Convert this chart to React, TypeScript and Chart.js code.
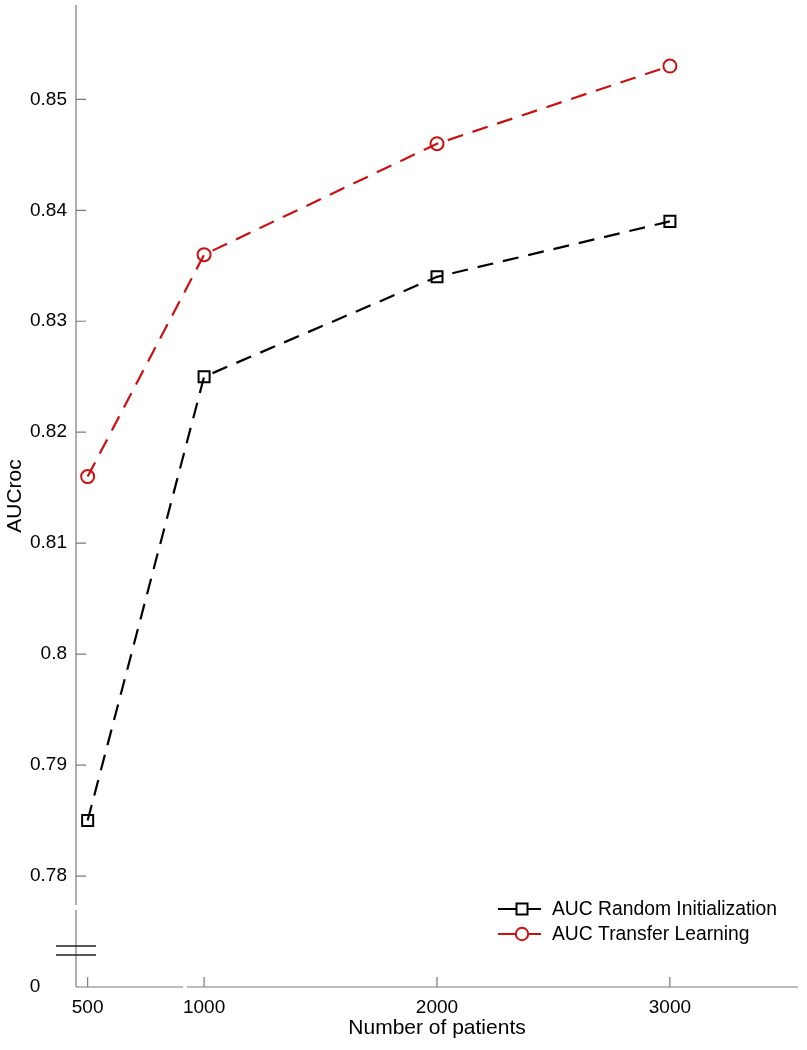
import React, { useEffect, useRef } from 'react';
import { Chart, registerables } from 'chart.js';

Chart.register(...registerables);

const patients = [500, 1000, 2000, 3000];
const aucRandom = [0.785, 0.825, 0.834, 0.839];
const aucTransfer = [0.816, 0.836, 0.846, 0.853];
const xTickValues = [500, 1000, 2000, 3000];
const yTickValues = [0.78, 0.79, 0.8, 0.81, 0.82, 0.83, 0.84, 0.85];
const yBreakLabel = '0';
const seriesNames = ['AUC Random Initialization', 'AUC Transfer Learning'];
const xTitle = 'Number of patients';
const yTitle = 'AUCroc';

const FONT = "'Liberation Sans', Arial, Helvetica, sans-serif";
const AXIS_COLOR = '#7a7a7a';
const RED = '#cc1010';
const BLACK = '#000000';

const decorPlugin = {
  id: 'decor',
  afterDraw(chart: any) {
    const ctx = chart.ctx;
    const { left, right, top, bottom } = chart.chartArea;
    const xs = chart.scales.x;
    const ys = chart.scales.y;
    ctx.save();
    ctx.strokeStyle = AXIS_COLOR;
    ctx.lineWidth = 1.2;
    ctx.setLineDash([]);
    // y axis with gap
    const yGapTop = bottom - 82;
    const yGapBot = bottom - 77;
    ctx.beginPath();
    ctx.moveTo(left, top);
    ctx.lineTo(left, yGapTop);
    ctx.moveTo(left, yGapBot);
    ctx.lineTo(left, bottom);
    // x axis with gap
    const xGapL = left + 107;
    const xGapR = left + 111;
    ctx.moveTo(left, bottom);
    ctx.lineTo(xGapL, bottom);
    ctx.moveTo(xGapR, bottom);
    ctx.lineTo(right, bottom);
    ctx.stroke();
    // ticks
    ctx.beginPath();
    yTickValues.forEach((v) => {
      const p = ys.getPixelForValue(v);
      ctx.moveTo(left, p);
      ctx.lineTo(left + 10, p);
    });
    xTickValues.forEach((v) => {
      const p = xs.getPixelForValue(v);
      ctx.moveTo(p, bottom);
      ctx.lineTo(p, bottom - 10);
    });
    ctx.stroke();
    // break marks
    ctx.strokeStyle = '#222222';
    ctx.lineWidth = 1.5;
    ctx.beginPath();
    ctx.moveTo(left - 20, bottom - 41);
    ctx.lineTo(left + 20, bottom - 41);
    ctx.moveTo(left - 20, bottom - 32);
    ctx.lineTo(left + 20, bottom - 32);
    ctx.stroke();
    // "0" label
    ctx.fillStyle = BLACK;
    ctx.font = `19px ${FONT}`;
    ctx.textAlign = 'center';
    ctx.textBaseline = 'middle';
    ctx.fillText(yBreakLabel, 35, bottom);
    // legend
    const items = [
      { name: seriesNames[0], color: BLACK, shape: 'rect' },
      { name: seriesNames[1], color: RED, shape: 'circle' },
    ];
    ctx.font = `19.3px ${FONT}`;
    ctx.textAlign = 'left';
    items.forEach((it, i) => {
      const y = 909 + i * 25;
      ctx.strokeStyle = it.color;
      ctx.lineWidth = 2;
      ctx.beginPath();
      ctx.moveTo(498, y);
      ctx.lineTo(516, y);
      ctx.moveTo(528, y);
      ctx.lineTo(541, y);
      ctx.stroke();
      ctx.beginPath();
      if (it.shape === 'rect') {
        ctx.rect(516.5, y - 5.5, 11, 11);
      } else {
        ctx.arc(522, y, 6.2, 0, Math.PI * 2);
      }
      ctx.stroke();
      ctx.fillStyle = BLACK;
      ctx.fillText(it.name, 552, y + 1);
    });
    ctx.restore();
  },
};

export default function App() {
  const canvasRef = useRef<HTMLCanvasElement | null>(null);

  useEffect(() => {
    if (!canvasRef.current) return;
    Chart.defaults.font.family = FONT;
    const chart = new Chart(canvasRef.current, {
      type: 'line',
      data: {
        datasets: [
          {
            label: seriesNames[0],
            data: patients.map((x, i) => ({ x, y: aucRandom[i] })),
            borderColor: BLACK,
            borderWidth: 2.2,
            borderDash: [16, 10],
            pointStyle: 'rect',
            pointRadius: 7.8,
            pointBorderWidth: 2,
            pointBorderColor: BLACK,
            pointBackgroundColor: 'rgba(0,0,0,0)',
            fill: false,
            tension: 0,
          },
          {
            label: seriesNames[1],
            data: patients.map((x, i) => ({ x, y: aucTransfer[i] })),
            borderColor: RED,
            borderWidth: 2.2,
            borderDash: [16, 10],
            pointStyle: 'circle',
            pointRadius: 6.5,
            pointBorderWidth: 2,
            pointBorderColor: RED,
            pointBackgroundColor: 'rgba(0,0,0,0)',
            fill: false,
            tension: 0,
          },
        ],
      },
      options: {
        animation: false,
        responsive: false,
        maintainAspectRatio: false,
        layout: { autoPadding: false, padding: { top: 5, right: 9, left: 0, bottom: 0 } },
        plugins: {
          legend: { display: false },
          tooltip: { enabled: false },
        },
        scales: {
          x: {
            type: 'linear',
            min: 450,
            max: 3550,
            grid: { display: false, drawTicks: false },
            border: { display: false },
            afterBuildTicks: (scale: any) => {
              scale.ticks = xTickValues.map((v) => ({ value: v }));
            },
            afterFit: (scale: any) => {
              scale.height = 63;
              scale.paddingLeft = 0;
              scale.paddingRight = 0;
            },
            ticks: {
              padding: 9,
              color: BLACK,
              font: { size: 19 },
              maxRotation: 0,
              autoSkip: false,
              callback: (v: any) => String(v),
            },
            title: {
              display: true,
              text: xTitle,
              color: BLACK,
              font: { size: 21 },
              padding: { top: 0, bottom: 9 },
            },
          },
          y: {
            type: 'linear',
            min: 0.77,
            max: 0.8585,
            grid: { display: false, drawTicks: false },
            border: { display: false },
            afterBuildTicks: (scale: any) => {
              scale.ticks = yTickValues.map((v) => ({ value: v }));
            },
            afterFit: (scale: any) => {
              scale.width = 76;
              scale.paddingTop = 0;
              scale.paddingBottom = 0;
            },
            ticks: {
              padding: 9,
              color: BLACK,
              font: { size: 19 },
              autoSkip: false,
              callback: (v: any) => String(v),
            },
            title: {
              display: true,
              text: yTitle,
              color: BLACK,
              font: { size: 21 },
              padding: { top: 3, bottom: 0 },
            },
          },
        },
      },
      plugins: [decorPlugin],
    } as any);
    return () => chart.destroy();
  }, []);

  return (
    <div style={{ position: 'absolute', left: 0, top: 0, width: 807, height: 1050, background: '#fff' }}>
      <canvas ref={canvasRef} width={807} height={1050} style={{ width: 807, height: 1050 }} />
    </div>
  );
}
